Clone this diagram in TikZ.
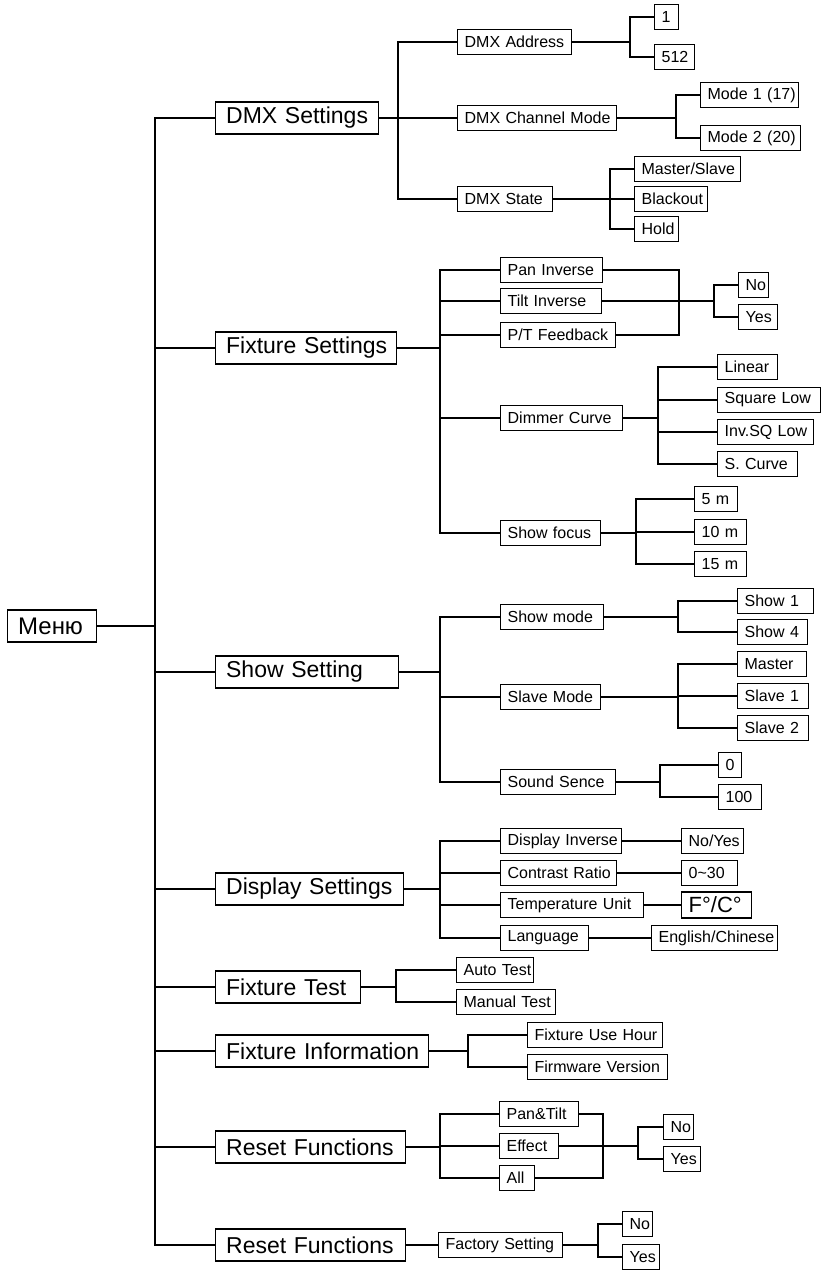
\documentclass[tikz,border=0pt]{standalone}
\usepackage{fontspec}
\setmainfont{Liberation Sans}
\begin{document}
\begin{tikzpicture}[x=1pt,y=-1pt,
  base/.style={draw, line width=1.3pt, inner sep=0pt, anchor=west, minimum height=25pt, align=left,
    font=\fontsize{16pt}{16pt}\selectfont},
  pad/.style={execute at begin node={\hspace*{#1}}},
  box/.style={base, pad=7pt},
  big/.style={base, pad=10.5pt, minimum height=32pt, font=\fontsize{23pt}{23pt}\selectfont},
  w/.style={text width=#1pt},
  ln/.style={line width=1.3pt}]
\fill[white] (0,0) rectangle (821,1270);
\useasboundingbox (0,0) rectangle (821,1270);
% top level
\node[big, w=89, font=\fontsize{24pt}{24pt}\selectfont] (menu) at (7,626) {Меню};
\node[big, w=163] (dmx) at (215,118) {DMX Settings};
\node[big, w=181] (fix) at (215,348) {Fixture Settings};
\node[big, w=183] (show) at (215,672) {Show Setting};
\node[big, w=188] (disp) at (215,889) {Display Settings};
\node[big, w=145] (ftest) at (215,987) {Fixture Test};
\node[big, w=213] (finfo) at (215,1051) {Fixture Information};
\node[big, w=190] (reset1) at (215,1147) {Reset Functions};
\node[big, w=190] (reset2) at (215,1245) {Reset Functions};
% DMX
\node[box, w=114] (dmxaddr) at (457,42) {DMX Address};
\node[box, w=159] (dmxch) at (457,118) {DMX Channel Mode};
\node[box, w=95] (dmxst) at (457,199) {DMX State};
\node[box, w=24] (a1) at (654,17) {1};
\node[box, w=40] (a512) at (654,57) {512};
\node[box, w=98] (mode1) at (700,95) {Mode 1 (17)};
\node[box, w=100] (mode2) at (700,138) {Mode 2 (20)};
\node[box, w=106] (ms) at (634,169) {Master/Slave};
\node[box, w=73] (blk) at (634,199) {Blackout};
\node[box, w=44] (hold) at (634,229) {Hold};
% Fixture
\node[box, w=102] (pan) at (500,270) {Pan Inverse};
\node[box, w=101] (tilt) at (500,301) {Tilt Inverse};
\node[box, w=115] (ptf) at (500,335) {P/T Feedback};
\node[box, w=30] (no1) at (738,285) {No};
\node[box, w=39] (yes1) at (738,317) {Yes};
\node[box, w=122] (dim) at (500,418) {Dimmer Curve};
\node[box, w=60] (lin) at (717,367) {Linear};
\node[box, w=103] (sql) at (717,400) {Square Low};
\node[box, w=96] (isq) at (717,432) {Inv.SQ Low};
\node[box, w=80] (scur) at (717,464) {S. Curve};
\node[box, w=100] (sf) at (500,533) {Show focus};
\node[box, w=43] (m5) at (694,499) {5 m};
\node[box, w=52] (m10) at (694,532) {10 m};
\node[box, w=52] (m15) at (694,564) {15 m};
% Show
\node[box, w=103] (smode) at (500,617) {Show mode};
\node[box, w=76] (sh1) at (737,601) {Show 1};
\node[box, w=70] (sh4) at (737,632) {Show 4};
\node[box, w=100] (slm) at (500,697) {Slave Mode};
\node[box, w=69] (mst) at (737,664) {Master};
\node[box, w=71] (sl1) at (737,696) {Slave 1};
\node[box, w=71] (sl2) at (737,728) {Slave 2};
\node[box, w=115] (snd) at (500,782) {Sound Sence};
\node[box, w=23] (z0) at (718,765) {0};
\node[box, w=43] (z100) at (718,797) {100};
% Display
\node[box, w=121] (dinv) at (500,841) {Display Inverse};
\node[box, w=62] (noyes) at (681,841) {No/Yes};
\node[box, w=116] (cr) at (500,873) {Contrast Ratio};
\node[box, w=56] (c030) at (681,873) {0\char`~30};
\node[base, pad=7pt, w=70, minimum height=26pt, font=\fontsize{22pt}{22pt}\selectfont] (fc) at (681,905) {F°/C°};
\node[box, w=143] (tu) at (500,905) {Temperature Unit};
\node[box, w=88] (lang) at (500,938) {Language};
\node[box, w=126] (engchn) at (651,938) {English/Chinese};
% Fixture test / info
\node[box, w=77] (auto) at (456,970) {Auto Test};
\node[box, w=99] (manual) at (456,1002) {Manual Test};
\node[box, w=135] (fuh) at (527,1035) {Fixture Use Hour};
\node[box, w=140] (fwv) at (527,1067) {Firmware Version};
% Reset 1
\node[box, w=79] (pt) at (499,1114) {Pan\&Tilt};
\node[box, w=59] (eff) at (499,1146) {Effect};
\node[box, w=35] (all) at (499,1178) {All};
\node[box, w=30] (no2) at (663,1127) {No};
\node[box, w=37] (yes2) at (663,1159) {Yes};
% Reset 2
\node[box, w=124] (fs) at (438,1245) {Factory Setting};
\node[box, w=30] (no3) at (622,1224) {No};
\node[box, w=37] (yes3) at (622,1257) {Yes};
% bar coordinates
\coordinate (trunk) at (155,626);
\coordinate (bdmx) at (398,118);
\coordinate (baddr) at (630,42);
\coordinate (bch) at (676,118);
\coordinate (bst) at (610,199);
\coordinate (bfix) at (440,348);
\coordinate (mpt) at (679,301);
\coordinate (bny) at (714,301);
\coordinate (bdim) at (658,418);
\coordinate (bsf) at (636,533);
\coordinate (bshow) at (440,672);
\coordinate (bsm) at (678,617);
\coordinate (bslm) at (678,697);
\coordinate (bsnd) at (660,782);
\coordinate (bdisp) at (440,889);
\coordinate (bft) at (396,987);
\coordinate (bfi) at (468,1051);
\coordinate (br1) at (440,1147);
\coordinate (mr) at (603,1146);
\coordinate (bry) at (638,1146);
\coordinate (br2) at (598,1245);
% connectors
\draw[ln] (menu.east) -- (trunk);
\foreach \n in {dmx,fix,show,disp,ftest,finfo,reset1,reset2} \draw[ln] (trunk) |- (\n.west);
\draw[ln] (dmx.east) -- (bdmx);
\foreach \n in {dmxaddr,dmxch,dmxst} \draw[ln] (bdmx) |- (\n.west);
\draw[ln] (dmxaddr.east) -- (baddr);
\foreach \n in {a1,a512} \draw[ln] (baddr) |- (\n.west);
\draw[ln] (dmxch.east) -- (bch);
\foreach \n in {mode1,mode2} \draw[ln] (bch) |- (\n.west);
\draw[ln] (dmxst.east) -- (bst);
\foreach \n in {ms,blk,hold} \draw[ln] (bst) |- (\n.west);
\draw[ln] (fix.east) -- (bfix);
\foreach \n in {pan,tilt,ptf,dim,sf} \draw[ln] (bfix) |- (\n.west);
\draw[ln] (pan.east) -| (mpt);
\draw[ln] (ptf.east) -| (mpt);
\draw[ln] (tilt.east) -- (bny);
\foreach \n in {no1,yes1} \draw[ln] (bny) |- (\n.west);
\draw[ln] (dim.east) -- (bdim);
\foreach \n in {lin,sql,isq,scur} \draw[ln] (bdim) |- (\n.west);
\draw[ln] (sf.east) -- (bsf);
\foreach \n in {m5,m10,m15} \draw[ln] (bsf) |- (\n.west);
\draw[ln] (show.east) -- (bshow);
\foreach \n in {smode,slm,snd} \draw[ln] (bshow) |- (\n.west);
\draw[ln] (smode.east) -- (bsm);
\foreach \n in {sh1,sh4} \draw[ln] (bsm) |- (\n.west);
\draw[ln] (slm.east) -- (bslm);
\foreach \n in {mst,sl1,sl2} \draw[ln] (bslm) |- (\n.west);
\draw[ln] (snd.east) -- (bsnd);
\foreach \n in {z0,z100} \draw[ln] (bsnd) |- (\n.west);
\draw[ln] (disp.east) -- (bdisp);
\foreach \n in {dinv,cr,tu,lang} \draw[ln] (bdisp) |- (\n.west);
\draw[ln] (dinv.east) -- (noyes.west);
\draw[ln] (cr.east) -- (c030.west);
\draw[ln] (tu.east) -- (fc.west);
\draw[ln] (lang.east) -- (engchn.west);
\draw[ln] (ftest.east) -- (bft);
\foreach \n in {auto,manual} \draw[ln] (bft) |- (\n.west);
\draw[ln] (finfo.east) -- (bfi);
\foreach \n in {fuh,fwv} \draw[ln] (bfi) |- (\n.west);
\draw[ln] (reset1.east) -- (br1);
\foreach \n in {pt,eff,all} \draw[ln] (br1) |- (\n.west);
\draw[ln] (pt.east) -| (mr);
\draw[ln] (all.east) -| (mr);
\draw[ln] (eff.east) -- (bry);
\foreach \n in {no2,yes2} \draw[ln] (bry) |- (\n.west);
\draw[ln] (reset2.east) -- (fs.west);
\draw[ln] (fs.east) -- (br2);
\foreach \n in {no3,yes3} \draw[ln] (br2) |- (\n.west);
\end{tikzpicture}
\end{document}
